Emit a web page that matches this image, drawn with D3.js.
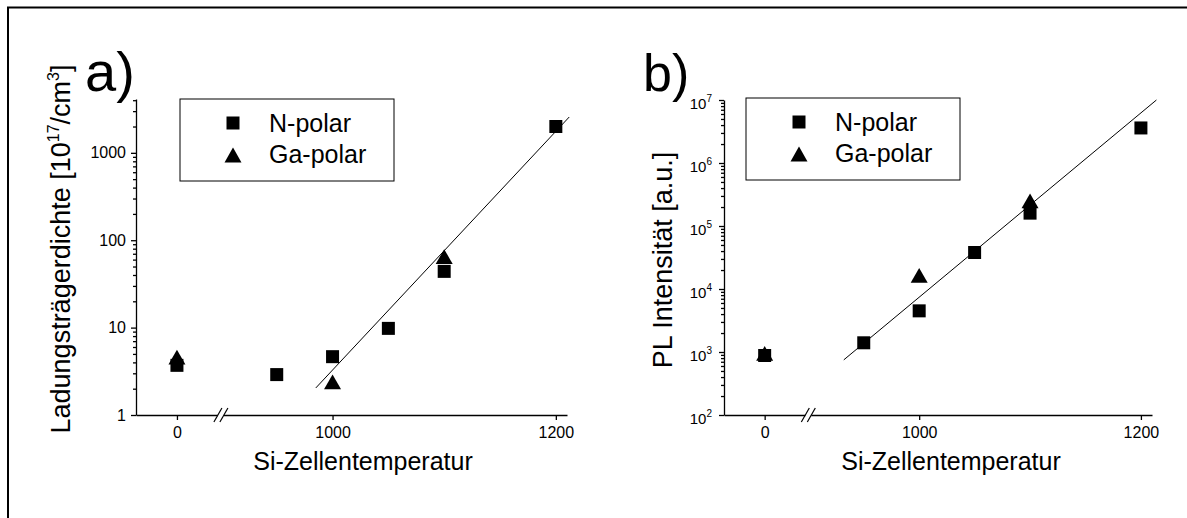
<!DOCTYPE html>
<html>
<head>
<meta charset="utf-8">
<script src="https://cdn.jsdelivr.net/npm/d3@7"></script>
<style>
  body { margin: 0; background: #fff; }
  svg { display: block; font-family: "Liberation Sans", Arial, sans-serif; }
</style>
</head>
<body>
<svg id="chart" width="1187" height="518"></svg>
<script>
// Si cell temperature (0 = no Si cell, drawn left of the axis break)
var tempsN = [0, 950, 1000, 1050, 1100, 1200];
var tempsGa = [0, 1000, 1100];

// a) carrier density [10^17/cm^3]
var densN = [3.7, 2.9, 4.65, 9.8, 44, 2000];
var densGa = [4.6, 2.4, 65];
var densFit = [[985, 2.04], [1212, 2570]];

// b) PL intensity [a.u.]
var plN = [880, 1400, 4500, 38000, 160000, 3600000];
var plGa = [950, 16500, 250000];
var plFit = [[932, 750], [1214, 1e7]];

// axes
var xTicks = [0, 1000, 1200];
var xDomain = [-41, 0, 44, 900, 1210];   // 44..900 is cut out by the break
var densDomain = [1, 4130];
var densTicks = [1, 10, 100, 1000];
var plDomain = [1e2, 1e7];
var plTicks = [1e2, 1e3, 1e4, 1e5, 1e6, 1e7];
var legendNames = ["N-polar", "Ga-polar"];

var svg = d3.select("#chart");
var xRangeFrac = [0, 0.095, 0.197, 0.197, 1];

// triangle centred on its bounding box, like Origin draws it
var triangle = {
  draw: function(ctx, size) {
    var w = Math.sqrt(size), h = w * 0.87;
    ctx.moveTo(0, -h / 2);
    ctx.lineTo(w / 2, h / 2);
    ctx.lineTo(-w / 2, h / 2);
    ctx.closePath();
  }
};
var squarePath = d3.symbol(d3.symbolSquare, 169)();
var trianglePath = d3.symbol(triangle, 289)();

// outer frame, only top and left edge are in the picture
svg.append("path")
  .attr("d", "M8,518V7.5H1187")
  .attr("fill", "none").attr("stroke", "#000").attr("stroke-width", 2);

function minorTicks(domain) {
  var out = [];
  for (var e = Math.floor(Math.log10(domain[0])); e <= Math.ceil(Math.log10(domain[1])); e++) {
    for (var k = 2; k <= 9; k++) {
      var v = k * Math.pow(10, e);
      if (v > domain[0] && v < domain[1]) out.push(v);
    }
  }
  return out;
}

function drawPanel(p) {
  var g = svg.append("g").attr("transform", "translate(" + p.left + ",0)");

  var x = d3.scaleLinear()
    .domain(xDomain)
    .range(xRangeFrac.map(function(f) { return f * p.width; }));
  var y = d3.scaleLog()
    .domain(p.yDomain)
    .range([p.bottom, p.top]);

  // x axis
  var xa = g.append("g")
    .attr("transform", "translate(0," + p.bottom + ")")
    .call(d3.axisBottom(x).tickValues(xTicks).tickSize(5).tickSizeOuter(0).tickPadding(7)
      .tickFormat(d3.format("d")));
  xa.selectAll("text").attr("font-size", 16).attr("font-family", null);

  // y axis, minor ticks first
  g.append("g")
    .call(d3.axisLeft(y).tickValues(minorTicks(p.yDomain)).tickSize(3).tickSizeOuter(0).tickFormat(""))
    .select(".domain").remove();
  var ya = g.append("g")
    .call(d3.axisLeft(y).tickValues(p.yTicks).tickSize(5).tickSizeOuter(0).tickPadding(p.supTicks ? 7 : 5));
  ya.selectAll("text").attr("font-family", null);
  if (p.supTicks) {
    ya.selectAll(".tick text").each(function(d) {
      var t = d3.select(this).text(null).attr("font-size", 15).attr("dy", "0.55em");
      t.append("tspan").text("10");
      t.append("tspan").attr("font-size", 10).attr("dy", -7).text(Math.round(Math.log10(d)));
    });
  } else {
    ya.selectAll("text").attr("font-size", 16).text(function(d) { return d3.format("d")(d); });
  }
  g.selectAll(".domain, .tick line").attr("stroke-width", 1.3);

  // axis break
  var bx = x(900);
  g.append("rect").attr("x", bx - 3).attr("y", p.bottom - 2).attr("width", 6).attr("height", 4).attr("fill", "#fff");
  [-3, 3].forEach(function(o) {
    g.append("line")
      .attr("x1", bx + o - 4).attr("y1", p.bottom + 7)
      .attr("x2", bx + o + 4).attr("y2", p.bottom - 7)
      .attr("stroke", "#000").attr("stroke-width", 1.2);
  });

  // fit line
  g.append("path")
    .datum(p.fit)
    .attr("d", d3.line().x(function(d) { return x(d[0]); }).y(function(d) { return y(d[1]); }))
    .attr("fill", "none").attr("stroke", "#000").attr("stroke-width", 1);

  // data
  g.selectAll(".sq").data(d3.zip(tempsN, p.valsN)).enter().append("path")
    .attr("transform", function(d) { return "translate(" + x(d[0]) + "," + y(d[1]) + ")"; })
    .attr("d", squarePath);
  g.selectAll(".tri").data(d3.zip(tempsGa, p.valsGa)).enter().append("path")
    .attr("transform", function(d) { return "translate(" + x(d[0]) + "," + y(d[1]) + ")"; })
    .attr("d", trianglePath);

  // legend
  var lg = g.append("g").attr("transform", "translate(" + p.legend[0] + "," + p.legend[1] + ")");
  lg.append("rect").attr("width", 214).attr("height", 82)
    .attr("fill", "#fff").attr("stroke", "#000").attr("stroke-width", 1);
  [squarePath, trianglePath].forEach(function(sym, i) {
    lg.append("path").attr("d", sym).attr("transform", "translate(53," + (24 + i * 32) + ")");
    lg.append("text").attr("x", 89).attr("y", 33 + i * 31).attr("font-size", 25).text(legendNames[i]);
  });

  // axis titles
  g.append("text")
    .attr("x", 227).attr("y", 470)
    .attr("text-anchor", "middle").attr("font-size", 25)
    .text("Si-Zellentemperatur");
  var yl = g.append("text")
    .attr("transform", "translate(" + p.yLabelX + "," + p.yLabelY + ") rotate(-90)")
    .attr("text-anchor", "middle").attr("font-size", 27);
  p.yLabel.forEach(function(part) {
    var ts = yl.append("tspan").text(part.t);
    if (part.sup) ts.attr("font-size", 16).attr("dy", -11);
    else if (part.down) ts.attr("dy", 11);
  });

  // panel letter
  svg.append("text")
    .attr("x", p.letterX).attr("y", 91)
    .attr("font-size", p.letterSize)
    .text(p.letter);
}

drawPanel({
  left: 136, width: 431, top: 99, bottom: 415,
  yDomain: densDomain, yTicks: densTicks, supTicks: false,
  valsN: densN, valsGa: densGa, fit: densFit,
  legend: [44, 99],
  yLabelX: -66, yLabelY: 249,
  yLabel: [{t: "Ladungsträgerdichte [10"}, {t: "17", sup: true}, {t: "/cm", down: true},
           {t: "3", sup: true}, {t: "]", down: true}],
  letter: "a)", letterX: 85, letterSize: 56
});

drawPanel({
  left: 724, width: 428, top: 100, bottom: 415,
  yDomain: plDomain, yTicks: plTicks, supTicks: true,
  valsN: plN, valsGa: plGa, fit: plFit,
  legend: [22, 98],
  yLabelX: -52, yLabelY: 260,
  yLabel: [{t: "PL Intensität [a.u.]"}],
  letter: "b)", letterX: 643, letterSize: 52
});
</script>
</body>
</html>
